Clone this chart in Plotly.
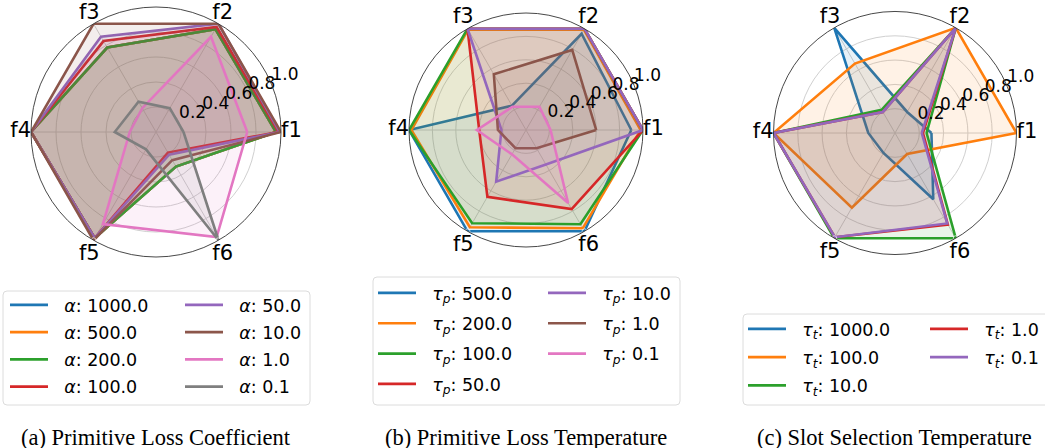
import plotly.graph_objects as go

W, H = 1045, 448

# Shared axes
features = ["f1", "f2", "f3", "f4", "f5", "f6"]
angles = [0, 60, 120, 180, 240, 300]
feature_textpos = ["middle right", "top center", "top center",
                   "middle left", "bottom center", "bottom center"]
# thin-space padding nudges the slanted labels away from the vertical spokes
THIN = "\u2009\u2009"
feature_text = ["f1", THIN + "f2", "f3" + THIN, "f4", "f5" + THIN, THIN + "f6"]
# invisible anchor sizes: push the lower labels a little further out
feature_anchor = [0, 0, 0, 0, 5, 5]
rgrid = [0.2, 0.4, 0.6, 0.8, 1.0]
rgrid_labels = ["0.2", "0.4", "0.6", "0.8", "1.0"]

palette = ["#1f77b4", "#ff7f0e", "#2ca02c", "#d62728",
           "#9467bd", "#8c564b", "#e377c2", "#7f7f7f"]

# (a) primitive loss coefficient alpha
alpha_names = ["1000.0", "500.0", "200.0", "100.0", "50.0", "10.0", "1.0", "0.1"]
alpha_1000 = [0.96, 0.95, 0.78, 1.00, 0.98, 0.32]
alpha_500 = [0.96, 0.95, 0.78, 1.00, 0.98, 0.32]
alpha_200 = [0.96, 0.95, 0.78, 1.00, 0.98, 0.32]
alpha_100 = [0.98, 0.97, 0.84, 1.00, 0.98, 0.19]
alpha_50 = [0.99, 1.00, 0.88, 1.00, 0.98, 0.21]
alpha_10 = [1.00, 1.00, 1.00, 1.00, 1.00, 0.26]
alpha_1 = [0.73, 0.88, 0.22, 0.21, 0.85, 0.97]
alpha_01 = [0.22, 0.22, 0.28, 0.33, 0.16, 1.00]
alpha_series = [alpha_1000, alpha_500, alpha_200, alpha_100,
                alpha_50, alpha_10, alpha_1, alpha_01]

# (b) primitive loss temperature tau_p
taup_names = ["500.0", "200.0", "100.0", "50.0", "10.0", "1.0", "0.1"]
taup_500 = [0.90, 0.95, 0.24, 1.00, 1.00, 1.00]
taup_200 = [0.98, 0.99, 0.99, 0.98, 0.96, 0.97]
taup_100 = [1.00, 1.00, 1.00, 1.00, 0.92, 0.93]
taup_50 = [1.00, 1.00, 1.00, 0.40, 0.66, 0.78]
taup_10 = [1.00, 1.00, 1.00, 0.21, 0.51, 0.34]
taup_1 = [0.60, 0.79, 0.55, 0.24, 0.18, 0.18]
taup_01 = [0.21, 0.23, 0.23, 0.42, 0.24, 0.72]
taup_series = [taup_500, taup_200, taup_100, taup_50, taup_10, taup_1, taup_01]

# (c) slot selection temperature tau_t
taut_names = ["1000.0", "100.0", "10.0", "1.0", "0.1"]
taut_1000 = [0.30, 0.20, 1.00, 0.22, 0.19, 0.63]
taut_100 = [1.00, 1.00, 0.66, 1.00, 0.71, 0.20]
taut_10 = [0.26, 1.00, 0.22, 1.00, 1.00, 1.00]
taut_1 = [0.23, 1.00, 0.20, 1.00, 0.99, 0.87]
taut_01 = [0.22, 1.00, 0.20, 1.00, 0.99, 0.86]
taut_series = [taut_1000, taut_100, taut_10, taut_1, taut_01]

LEG_PAD = "\u00a0\u00a0"


def rgba(hex_color, a):
    h = hex_color.lstrip("#")
    r, g, b = int(h[0:2], 16), int(h[2:4], 16), int(h[4:6], 16)
    return f"rgba({r},{g},{b},{a})"


fig = go.Figure()


def add_panel(subplot, series, names, label_fmt, legends, split):
    for i, (vals, nm) in enumerate(zip(series, names)):
        color = palette[i]
        r = vals + vals[:1]
        th = angles + angles[:1]
        leg = legends[0] if i < split else legends[1]
        fig.add_trace(go.Scatterpolar(
            r=r, theta=th, mode="lines", subplot=subplot,
            line=dict(color=color, width=2.6),
            name=LEG_PAD + label_fmt.format(nm), legend=leg,
            legendgroup=f"{subplot}-{i}", showlegend=True, hoverinfo="skip"))
        fig.add_trace(go.Scatterpolar(
            r=r, theta=th, mode="none", subplot=subplot, fill="toself",
            fillcolor=rgba(color, 0.1), showlegend=False, hoverinfo="skip"))
    # radial tick labels
    fig.add_trace(go.Scatterpolar(
        r=rgrid, theta=[22.5] * len(rgrid), mode="text", text=rgrid_labels,
        textposition="top right", subplot=subplot, cliponaxis=False,
        textfont=dict(family="DejaVu Sans", size=17, color="black"),
        showlegend=False, hoverinfo="skip"))
    # category labels on the rim
    fig.add_trace(go.Scatterpolar(
        r=[1.0] * len(features), theta=angles, mode="markers+text",
        text=feature_text, textposition=feature_textpos, subplot=subplot,
        cliponaxis=False,
        marker=dict(size=feature_anchor, color="rgba(0,0,0,0)"),
        textfont=dict(family="DejaVu Sans", size=21, color="black"),
        showlegend=False, hoverinfo="skip"))


add_panel("polar", alpha_series, alpha_names, "<i>α</i>: {}", ["legend", "legend2"], 4)
add_panel("polar2", taup_series, taup_names, "<i>τ</i><sub><i>p</i></sub>: {}", ["legend3", "legend4"], 4)
add_panel("polar3", taut_series, taut_names, "<i>τ</i><sub><i>t</i></sub>: {}", ["legend5", "legend6"], 3)


def polar_layout(cx, cy, R):
    return dict(
        domain=dict(x=[(cx - R) / W, (cx + R) / W],
                    y=[1 - (cy + R) / H, 1 - (cy - R) / H]),
        bgcolor="white",
        radialaxis=dict(range=[0, 1], tickvals=rgrid, showticklabels=False,
                        ticks="", showline=False, gridcolor="#d0d0d0",
                        gridwidth=0.8, angle=22.5),
        angularaxis=dict(type="linear", thetaunit="degrees", tickmode="array",
                         tickvals=angles, showticklabels=False, ticks="",
                         direction="counterclockwise", rotation=0,
                         showline=True, linecolor="#333333", linewidth=0.9,
                         gridcolor="#d0d0d0", gridwidth=0.8),
    )


def legend_cfg(x_px, y_px, gap):
    return dict(x=x_px / W, y=1 - y_px / H, xanchor="left", yanchor="top",
                bgcolor="rgba(0,0,0,0)", borderwidth=0,
                font=dict(family="DejaVu Sans", size=17.5, color="black"),
                itemwidth=38, tracegroupgap=gap, traceorder="grouped",
                orientation="v")


def frame(x0, y0, x1, y1, rad=4):
    rx, ry = rad / W, rad / H
    X0, X1 = x0 / W, x1 / W
    Y0, Y1 = 1 - y1 / H, 1 - y0 / H
    path = (f"M{X0 + rx},{Y0} L{X1 - rx},{Y0} Q{X1},{Y0} {X1},{Y0 + ry} "
            f"L{X1},{Y1 - ry} Q{X1},{Y1} {X1 - rx},{Y1} L{X0 + rx},{Y1} "
            f"Q{X0},{Y1} {X0},{Y1 - ry} L{X0},{Y0 + ry} Q{X0},{Y0} {X0 + rx},{Y0} Z")
    return dict(type="path", path=path, xref="paper", yref="paper",
                line=dict(color="#dcdcdc", width=1), fillcolor="white",
                layer="below")


captions = [("(a) Primitive Loss Coefficient", 156),
            ("(b) Primitive Loss Temperature", 526),
            ("(c) Slot Selection Temperature", 894)]

fig.update_layout(
    width=W, height=H, margin=dict(l=0, r=0, t=0, b=0),
    paper_bgcolor="white", plot_bgcolor="white",
    polar=polar_layout(156, 132, 125),
    polar2=polar_layout(526, 130, 117),
    polar3=polar_layout(895, 133, 121.5),
    legend=legend_cfg(5, 287, 1.5),
    legend2=legend_cfg(180, 287, 1.5),
    legend3=legend_cfg(373, 275, 4.6),
    legend4=legend_cfg(543, 275, 4.6),
    legend5=legend_cfg(743, 311, 2.5),
    legend6=legend_cfg(925, 311, 2.5),
    shapes=[frame(3, 291, 310, 405), frame(373, 277, 680, 405),
            frame(743, 314, 1052, 405)],
    annotations=[dict(text=t, x=x / W, y=1 - 437 / H, xref="paper", yref="paper",
                      xanchor="center", yanchor="middle", showarrow=False,
                      font=dict(family="Liberation Serif", size=22.5, color="black"))
                 for t, x in captions],
)

fig.write_html("out.html")
